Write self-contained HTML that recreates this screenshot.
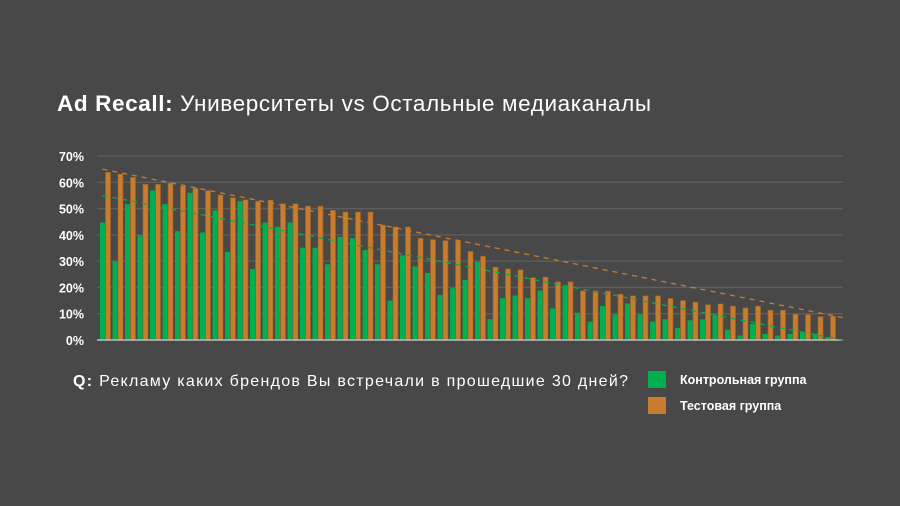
<!DOCTYPE html>
<html><head><meta charset="utf-8">
<style>
html,body{margin:0;padding:0;background:#484848;}
#wrap{position:relative;width:900px;height:506px;overflow:hidden;background:#484848;font-family:"Liberation Sans","Noto Sans CJK SC",sans-serif;color:#fff;}
svg{position:absolute;left:0;top:0;}
</style></head>
<body>
<div id="wrap">
<svg id="chart" width="900" height="506">
  <text x="57" y="111" font-size="22.5" fill="#fff" textLength="594" lengthAdjust="spacing"><tspan font-weight="bold">Ad Recall:</tspan> Университеты vs Остальные медиаканалы</text>
  <text x="73" y="386" font-size="16" fill="#fff" textLength="555" lengthAdjust="spacing"><tspan font-weight="bold">Q:</tspan> Рекламу каких брендов Вы встречали в прошедшие 30 дней?</text>
  <rect x="648" y="371" width="18" height="17" fill="#00b050"/>
  <text x="680" y="384" font-size="12.5" font-weight="bold" fill="#fff">Контрольная группа</text>
  <rect x="648" y="397" width="18" height="17" fill="#c87d2e"/>
  <text x="680" y="410" font-size="12.5" font-weight="bold" fill="#fff">Тестовая группа</text>
  <g id="plot"></g>
</svg>
</div>
<script>
const yTicks = [0,10,20,30,40,50,60,70];
const yTickLabels = ["0%","10%","20%","30%","40%","50%","60%","70%"];
const controlValues = [44.7,29.9,51.7,39.8,56.9,51.7,41.4,56,40.9,49.3,33.5,52.8,27,44.7,43.1,44.7,35.1,35.1,28.8,
39.2,38.7,34.2,28.8,15,32.2,28,25.5,17.1,19.7,22.9,29.7,7.9,15.9,16.9,15.9,18.8,12,20.7,10.4,
7,12.9,9.7,13.9,9.7,7,7.9,4.6,7.5,7.9,9.3,3.9,1.7,6.1,2.3,1.7,2.3,2.9,2.4,1.1];
const testValues = [63.8,63.1,61.9,59.2,59.2,59.6,58.5,57.7,56.8,55.2,54.1,53.3,52.8,53.2,51.8,51.8,50.9,50.9,49.3,
48.7,48.7,48.7,43.7,43,43,38.7,38.2,37.8,37.7,33.7,31.9,27.7,27,26.7,23.7,23.9,22.1,22.1,18.7,
18.7,18.6,17.4,16.8,16.8,16.8,15.8,15,14.4,13.4,13.7,12.9,12.2,12.9,11.3,11.3,9.8,9.7,8.9,9];
const trendTest = [65, 8.5];
const trendControl = [55, 0];

const NS="http://www.w3.org/2000/svg";
const plot=document.getElementById('plot');
const x0=97,x1=843,y0=340,y70=156;
const yScale=v=>y0-(v/70)*(y0-y70);
const step=12.5;
const xScale=i=>100+step*i;
function mk(tag,attrs){const e=document.createElementNS(NS,tag);for(const k in attrs)e.setAttribute(k,attrs[k]);plot.appendChild(e);return e;}

yTicks.forEach((t,k)=>{
  if(t>0){const l=mk('line',{x1:x0,x2:x1,y1:yScale(t),y2:yScale(t),stroke:'#5f5f5f','stroke-width':1.3});
  
  }
  const tx=mk('text',{x:84,y:yScale(t)+5,'text-anchor':'end','font-size':12.5,'font-weight':'bold',fill:'#fff'});
  tx.textContent=yTickLabels[k];
  
  
});

controlValues.forEach((v,i)=>{
  const r=mk('rect',{x:xScale(i),y:yScale(v),width:5,height:y0-yScale(v),fill:'#00b050'});
  
  
});
testValues.forEach((v,i)=>{
  const r=mk('rect',{x:xScale(i)+5.5,y:yScale(v),width:5,height:y0-yScale(v),fill:'#c87d2e',stroke:'#9e6228','stroke-width':0.6});
  
  
});

const base=mk('line',{x1:x0,x2:x1,y1:y0,y2:y0,stroke:'#bdbdbd','stroke-width':1.5});



[[trendTest,'#c87d2e','trendline-test'],[trendControl,'#00b050','trendline-control']].forEach(([tr,col,name])=>{
  const l=mk('line',{x1:xScale(0)+2.5,y1:yScale(tr[0]),x2:x1,y2:yScale(tr[1]),stroke:col,'stroke-width':1.3,'stroke-dasharray':'5,5'});
  
  
});
</script>
</body></html>
